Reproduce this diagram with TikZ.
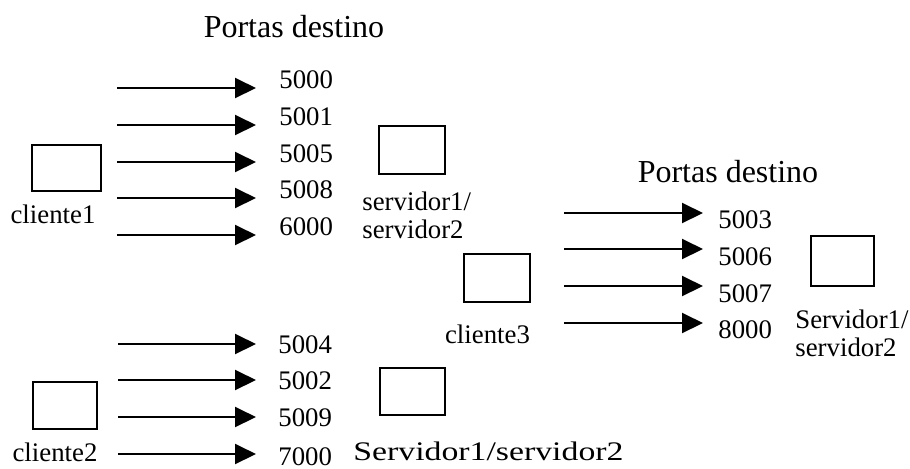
\documentclass[tikz,border=0pt]{standalone}
\usepackage{fontspec}
\setmainfont{Liberation Serif}
\usetikzlibrary{arrows.meta}
\begin{document}
\begin{tikzpicture}[x=0.5pt,y=-0.5pt,
	host/.style={draw,line width=0.9pt,minimum width=33pt,minimum height=24pt,inner sep=0pt},
	port/.style={line width=1pt,-{Triangle[length=10.5pt,width=10pt]},shorten >=#1},
	lbl/.style={font=\fontsize{13.4}{14}\selectfont,inner sep=0pt,anchor=base west},
	ttl/.style={font=\fontsize{16}{19}\selectfont,inner sep=0pt,anchor=base}]
				\useasboundingbox (0,0) rectangle (910,468);
				% titulos
				\node[ttl] (t1) at (294,37) {Portas destino};
				\node[ttl] (t2) at (728,182) {Portas destino};
				% maquinas
				\node[host,minimum width=34.5pt,minimum height=23pt] (c1) at (66.5,168) {};
				\node[host] (s1) at (412,150) {};
				\node[host] (c3) at (497,278) {};
				\node[host,minimum width=31.5pt,minimum height=25pt] (s3) at (842.5,261) {};
				\node[host,minimum width=32pt,minimum height=23.5pt] (c2) at (65,405.5) {};
				\node[host,minimum width=32.5pt,minimum height=23.5pt] (s2) at (412.5,391.5) {};
				\node[lbl,anchor=base] (lc1) at (53,223) {cliente1};
				\node[lbl,align=left] (ls1) at (362,238) {servidor1/\\servidor2};
				\node[lbl,anchor=base] (lc3) at (487.5,343) {cliente3};
				\node[lbl,align=left] (ls3) at (795,356) {Servidor1/\\servidor2};
				\node[lbl,anchor=base] (lc2) at (55,461) {cliente2};
				\node[lbl] (ls2) at (353,460) {\scalebox{1.26}[1]{Servidor1/servidor2}};
				% portas
				\node[lbl] (p5000) at (279,88) {5000};
				\node[lbl] (p5001) at (279,125) {5001};
				\node[lbl] (p5005) at (279,162) {5005};
				\node[lbl] (p5008) at (279,198) {5008};
				\node[lbl] (p6000) at (279,235) {6000};
				\node[lbl] (p5003) at (718,228) {5003};
				\node[lbl] (p5006) at (718,265) {5006};
				\node[lbl] (p5007) at (718,302) {5007};
				\node[lbl] (p8000) at (718,338) {8000};
				\node[lbl] (p5004) at (278,353) {5004};
				\node[lbl] (p5002) at (278,389) {5002};
				\node[lbl] (p5009) at (278,426) {5009};
				\node[lbl] (p7000) at (278,465) {7000};
				% origem das setas
				\coordinate (a1) at (117,88);
				\coordinate (a2) at (117,125);
				\coordinate (a3) at (117,162);
				\coordinate (a4) at (117,198);
				\coordinate (a5) at (117,235);
				\coordinate (b1) at (564,213);
				\coordinate (b2) at (564,249);
				\coordinate (b3) at (564,286);
				\coordinate (b4) at (564,323);
				\coordinate (d1) at (118,344);
				\coordinate (d2) at (118,380);
				\coordinate (d3) at (118,417);
				\coordinate (d4) at (118,454);
				\draw[port=11.5pt] (a1) -- (a1 -| p5000.west);
				\draw[port=11.5pt] (a2) -- (a2 -| p5001.west);
				\draw[port=11.5pt] (a3) -- (a3 -| p5005.west);
				\draw[port=11.5pt] (a4) -- (a4 -| p5008.west);
				\draw[port=11.5pt] (a5) -- (a5 -| p6000.west);
				\draw[port=7.5pt] (b1) -- (b1 -| p5003.west);
				\draw[port=7.5pt] (b2) -- (b2 -| p5006.west);
				\draw[port=7.5pt] (b3) -- (b3 -| p5007.west);
				\draw[port=7.5pt] (b4) -- (b4 -| p8000.west);
				\draw[port=11pt] (d1) -- (d1 -| p5004.west);
				\draw[port=11pt] (d2) -- (d2 -| p5002.west);
				\draw[port=11pt] (d3) -- (d3 -| p5009.west);
				\draw[port=11pt] (d4) -- (d4 -| p7000.west);
\end{tikzpicture}
\end{document}
